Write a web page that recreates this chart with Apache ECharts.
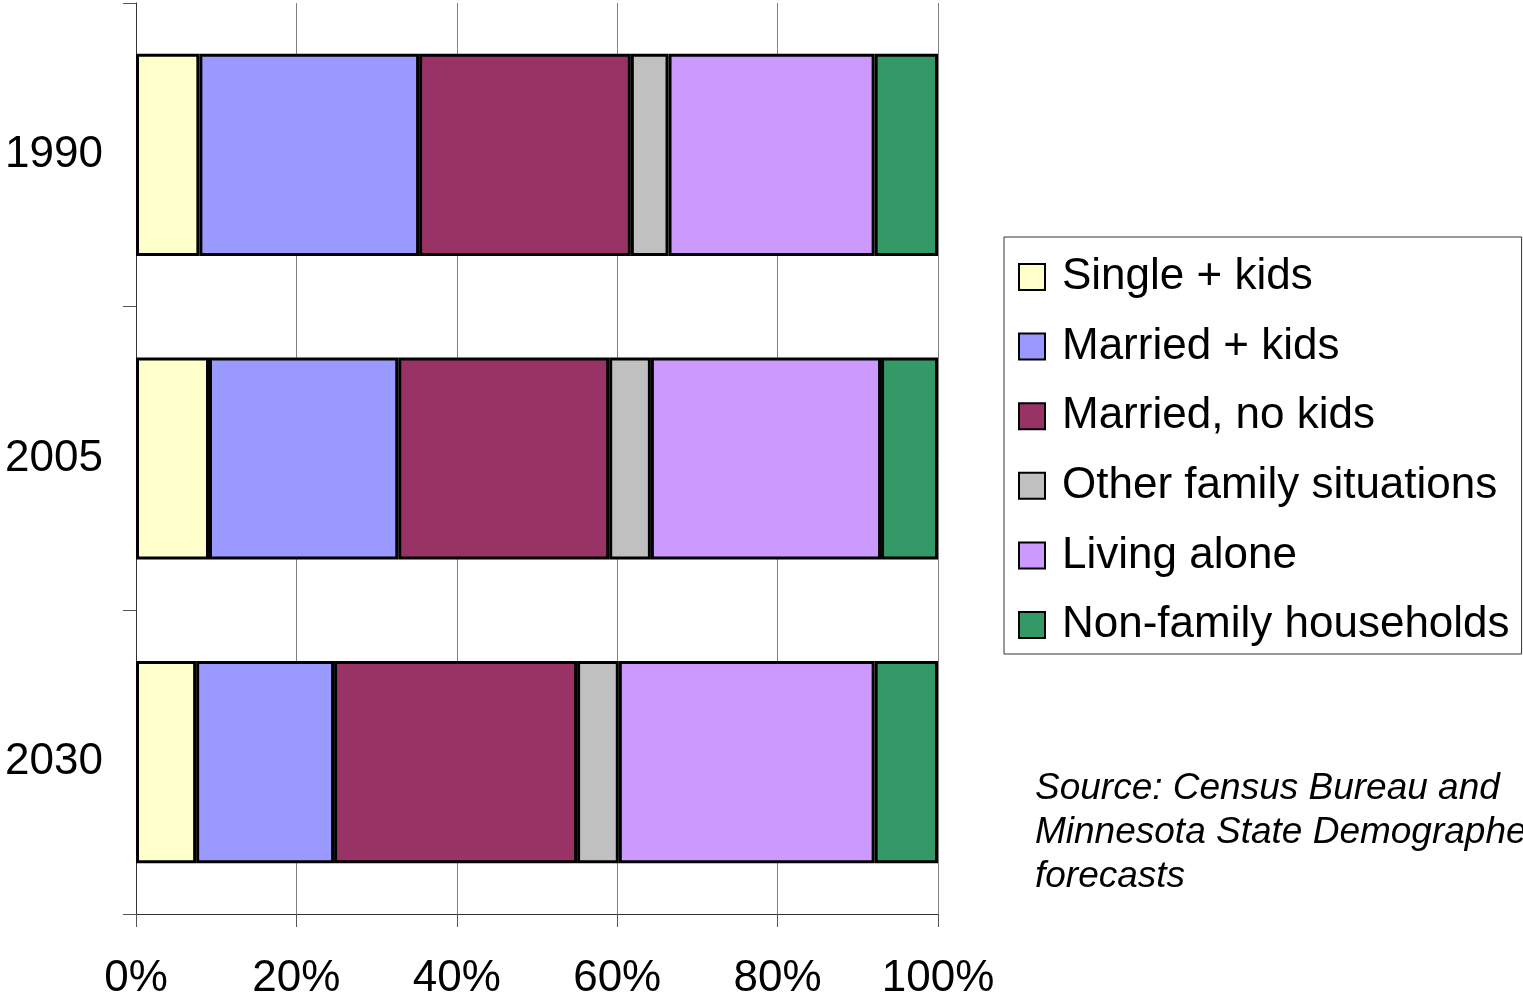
<!DOCTYPE html>
<html>
<head>
<meta charset="utf-8">
<script src="https://cdn.jsdelivr.net/npm/echarts@6/dist/echarts.min.js"></script>
<style>
  html, body { margin: 0; padding: 0; background: #fff; }
  #chart { width: 1523px; height: 1001px; }
</style>
</head>
<body>
<div id="chart"></div>
<script>
// Household composition shares (percent of households), by year
const years = ['1990', '2005', '2030'];
const seriesNames = ['Single + kids', 'Married + kids', 'Married, no kids', 'Other family situations', 'Living alone', 'Non-family households'];
const singleKids = [7.9, 9.1, 7.5];
const marriedKids = [27.4, 23.6, 17.2];
const marriedNoKids = [26.4, 26.3, 30.3];
const otherFamily = [4.7, 5.2, 5.2];
const livingAlone = [25.7, 28.7, 31.9];
const nonFamily = [7.9, 7.1, 7.9];
const xTicks = [0, 20, 40, 60, 80, 100];
const sourceNote = 'Source: Census Bureau and\nMinnesota State Demographer\nforecasts';

const seriesValues = [singleKids, marriedKids, marriedNoKids, otherFamily, livingAlone, nonFamily];
const colors = ['#FFFFCC', '#9999FF', '#993366', '#C0C0C0', '#CC99FF', '#339966'];
const FONT = "'Liberation Sans', Arial, sans-serif";

const chart = echarts.init(document.getElementById('chart'), null, { renderer: 'canvas' });

chart.setOption({
  animation: false,
  backgroundColor: '#ffffff',
  textStyle: { fontFamily: FONT },
  grid: { left: 136, right: 585, top: 3, bottom: 86, containLabel: false },
  title: {
    text: sourceNote,
    left: 1030,
    top: 762,
    textStyle: { fontFamily: FONT, fontSize: 37, fontStyle: 'italic', fontWeight: 'normal', color: '#000', lineHeight: 44 }
  },
  legend: {
    orient: 'vertical',
    left: 1004,
    top: 237,
    width: 517,
    padding: [18, 12, 7, 14],
    itemWidth: 26,
    itemHeight: 26,
    itemGap: 25.6,
    icon: 'rect',
    borderColor: '#333',
    borderWidth: 1,
    backgroundColor: '#fff',
    selectedMode: false,
    data: seriesNames,
    itemStyle: { borderColor: '#000', borderWidth: 2 },
    textStyle: { fontFamily: FONT, fontSize: 44, color: '#000', lineHeight: 44, padding: [0, 0, 0, 12] }
  },
  xAxis: {
    type: 'value',
    min: xTicks[0],
    max: xTicks[xTicks.length - 1],
    interval: 20,
    axisLine: { show: true, lineStyle: { color: '#333', width: 1 } },
    axisTick: { show: true, inside: false, length: 13, lineStyle: { color: '#555', width: 1 } },
    axisLabel: {
      margin: 43,
      fontFamily: FONT, fontSize: 44, color: '#000',
      formatter: v => v + '%'
    },
    splitLine: { show: true, lineStyle: { color: '#808080', width: 1 } }
  },
  yAxis: {
    type: 'category',
    inverse: true,
    data: years,
    axisLine: { show: true, lineStyle: { color: '#333', width: 1 } },
    axisTick: { show: true, inside: false, length: 13, lineStyle: { color: '#555', width: 1 } },
    axisLabel: { margin: 33, fontFamily: FONT, fontSize: 44, color: '#000', lineHeight: 44, padding: [12, 0, 0, 0] },
    splitLine: { show: false }
  },
  series: seriesNames.map((name, i) => ({
    name: name,
    type: 'bar',
    stack: 'total',
    barCategoryGap: '33.4%',
    data: seriesValues[i],
    itemStyle: { color: colors[i], borderColor: '#000', borderWidth: 3 },
    emphasis: { disabled: true }
  }))
});
</script>
</body>
</html>
